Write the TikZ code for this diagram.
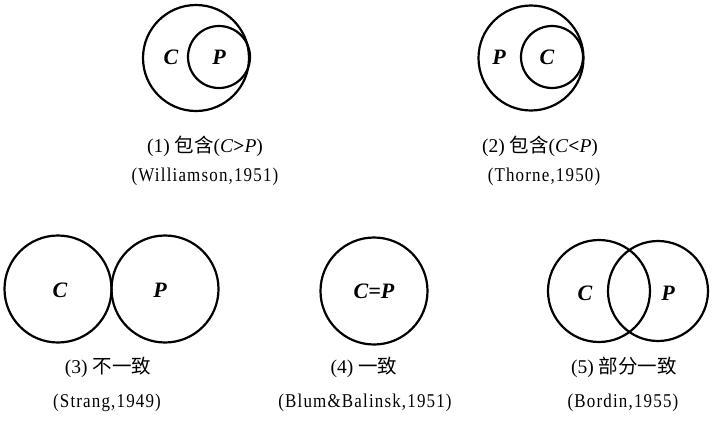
\documentclass[tikz,border=0pt]{standalone}
\usepackage{fontspec}
\setmainfont{Liberation Serif}
\newfontfamily\cjk{Noto Sans CJK SC}
\newfontfamily\narrowserif[FakeStretch=0.87,LetterSpace=6]{Liberation Serif}
\begin{document}
\begin{tikzpicture}[x=1pt,y=-1pt,
  ring/.style={circle,draw,line width=2.2pt,inner sep=0pt},
  letter/.style={font=\fontsize{22}{24}\selectfont\bfseries\itshape,inner sep=0pt},
  cap1/.style={font=\fontsize{19.5}{22}\selectfont,inner sep=0pt},
  cap2/.style={font=\narrowserif\fontsize{19.5}{22}\selectfont,inner sep=0pt}]
\useasboundingbox (0,0) rectangle (712,426);
% (1)
\node[ring,minimum size=106pt] (b1) at (196,58) {};
\node[ring,minimum size=62pt] (s1) at (219,57) {};
\node[letter] (c1) at (171,57) {C};
\node[letter] (p1) at (219,57) {P};
\node[cap1] (t1) at (205,146) {(1) {\cjk 包含}(\textit{C}\textbf{>}\textit{P})};
\node[cap2] (u1) at (205,177) {(Williamson,1951)};
% (2)
\node[ring,minimum size=105pt] (b2) at (531,58) {};
\node[ring,minimum size=62pt] (s2) at (552,57) {};
\node[letter] (p2) at (499,57) {P};
\node[letter] (c2) at (547,57) {C};
\node[cap1] (t2) at (540,146) {(2) {\cjk 包含}(\textit{C}\textbf{<}\textit{P})};
\node[cap2] (u2) at (544,177) {(Thorne,1950)};
% (3)
\node[ring,minimum size=107pt] (l3) at (58,289) {};
\node[ring,minimum size=107pt] (r3) at (165,289) {};
\node[letter] (c3) at (60,290) {C};
\node[letter] (p3) at (160,290) {P};
\node[cap1] (t3) at (108,367) {(3) {\cjk 不一致}};
\node[cap2] (u3) at (107,403) {(Strang,1949)};
% (4)
\node[ring,minimum size=107pt] (o4) at (374,291) {};
\node[letter] (cp4) at (374,291) {C=P};
\node[cap1] (t4) at (364,367) {(4) {\cjk 一致}};
\node[cap2] (u4) at (365,403) {(Blum\&Balinsk,1951)};
% (5)
\node[ring,minimum size=102pt] (l5) at (599,291) {};
\node[ring,minimum size=100pt] (r5) at (658,291) {};
\node[letter] (c5) at (585,293) {C};
\node[letter] (p5) at (668,293) {P};
\node[cap1] (t5) at (624,367) {(5) {\cjk 部分一致}};
\node[cap2] (u5) at (623,403) {(Bordin,1955)};
\end{tikzpicture}
\end{document}
